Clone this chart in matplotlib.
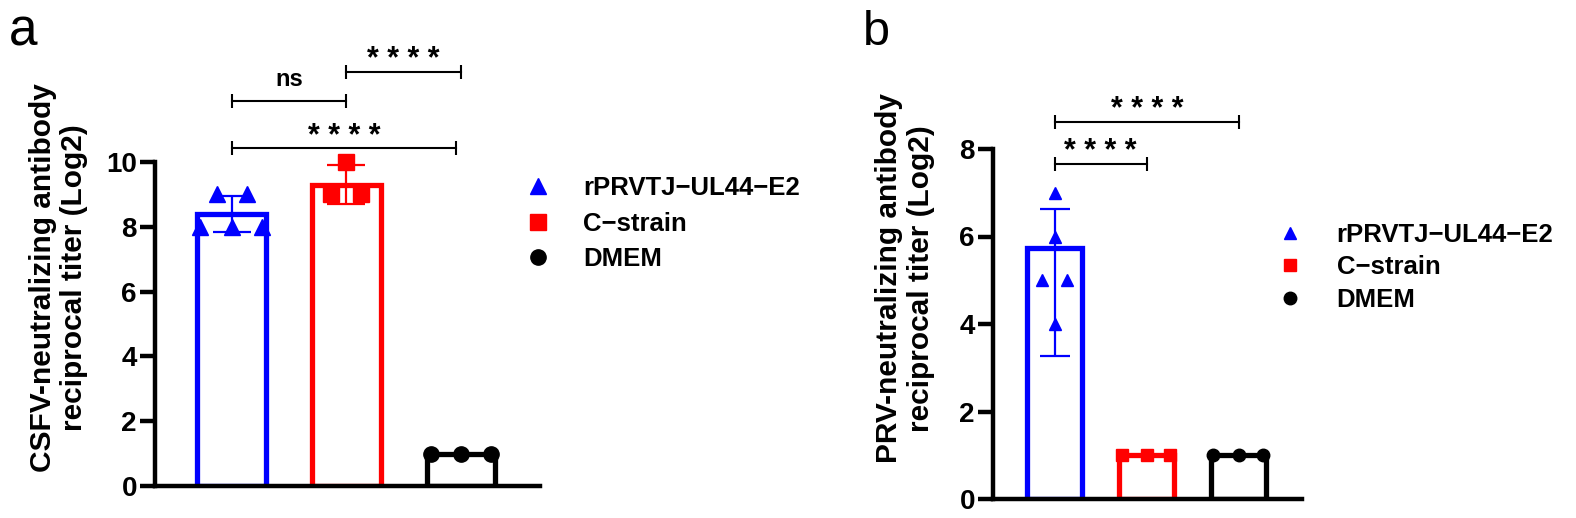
import matplotlib
matplotlib.use("Agg")
from matplotlib import pyplot as plt

plt.rcParams['font.family'] = ['Liberation Sans', 'DejaVu Sans']

# Datos
groups = ["rPRVTJ\u2212UL44\u2212E2", "C\u2212strain", "DMEM"]
colors = ["#0000FF", "#FF0000", "#000000"]
markers = ["^", "s", "o"]

# Panel a: CSFV
mean_a = [8.4, 9.3, 1.0]
err_lo_a = [0.55, 0.6, 0.0]
err_hi_a = [0.55, 0.6, 0.0]
points_a = [[9, 9, 8, 8, 8], [10, 9, 9], [1, 1, 1]]

# Panel b: PRV
mean_b = [5.73, 1.0, 1.0]
err_lo_b = [2.47, 0.0, 0.0]
err_hi_b = [0.9, 0.0, 0.0]
points_b = [[7, 6, 5, 5, 4], [1, 1, 1], [1, 1, 1]]

# Comparaciones (grupo1, grupo2, altura, texto)
sig_a = [(0, 1, 11.88, "ns"), (1, 2, 12.78, "* * * *"), (0, 1.96, 10.43, "* * * *")]
sig_b = [(0, 2.01, 8.62, "* * * *"), (0, 1, 7.66, "* * * *")]

# desplazamiento horizontal de los puntos dentro de cada barra
jitter_a = [[-0.13, 0.13, -0.28, 0.0, 0.26], [0.0, -0.13, 0.13], [-0.26, 0.0, 0.26]]
jitter_b = [[0.0, 0.0, -0.136, 0.136, 0.0], [-0.27, 0.0, 0.26], [-0.28, 0.0, 0.27]]

W, H = 1576, 518
fig = plt.figure(figsize=(W / 100, H / 100), dpi=100)


def dibuja_panel(ax, means, lo, hi, points, jitter, sig, ms, capsize, ymax, yticks,
                 ylabel, label_xy, legend_xy, labelspacing, textpad):
    xs = range(len(means))
    ax.bar(xs, means, width=0.6, facecolor="white", edgecolor=colors,
           linewidth=3.8, zorder=2)
    handles = []
    for i in xs:
        if hi[i] > 0:
            eb = ax.errorbar(i, means[i], yerr=[[lo[i]], [hi[i]]], fmt="none",
                             ecolor=colors[i], elinewidth=1.6, capsize=capsize,
                             capthick=1.6, zorder=3)
            for art in eb.get_children():
                art.set_clip_on(False)
        px = [i + j for j in jitter[i]]
        h, = ax.plot(px, points[i], linestyle="none", marker=markers[i],
                     color=colors[i], ms=ms[i], clip_on=False, zorder=4,
                     label=groups[i])
        handles.append(h)

    # corchetes de significancia
    for x1, x2, y, txt in sig:
        ax.plot([x1, x2], [y, y], color="black", lw=1.5, marker="|", ms=10,
                mew=1.5, clip_on=False)
        off = 10.8 if txt == "ns" else 2.5
        ax.annotate(txt, ((x1 + x2) / 2, y), xytext=(0, off),
                    textcoords="offset points", ha="center", va="baseline",
                    fontsize=17 if txt == "ns" else 22, fontweight="bold",
                    annotation_clip=False)

    ax.set_xlim(-0.67, 2.69)
    ax.set_ylim(0, ymax)
    ax.set_yticks(yticks)
    ax.spines[["top", "right"]].set_visible(False)
    for s in ["left", "bottom"]:
        ax.spines[s].set_linewidth(3.2)
    ax.tick_params(axis="x", bottom=False, labelbottom=False)
    ax.tick_params(axis="y", length=11, width=3.2, pad=2, labelsize=20)
    for t in ax.get_yticklabels():
        t.set_fontweight("bold")

    ax.text(label_xy[0], label_xy[1], ylabel, transform=ax.transAxes,
            rotation=90, ha="center", va="center", fontsize=21.5,
            fontweight="bold", linespacing=1.15)

    ax.legend(handles=handles, loc="upper left", bbox_to_anchor=legend_xy,
              bbox_transform=fig.transFigure, frameon=False, borderpad=0,
              borderaxespad=0, handlelength=1.0, handletextpad=textpad,
              labelspacing=labelspacing, prop={"size": 18.5, "weight": "bold"})


ax_a = fig.add_axes([155 / W, 32 / H, 385 / W, 324 / H])
dibuja_panel(ax_a, mean_a, err_lo_a, err_hi_a, points_a, jitter_a, sig_a,
             ms=[12, 12, 11], capsize=13.5, ymax=10, yticks=[0, 2, 4, 6, 8, 10],
             ylabel="CSFV-neutralizing antibody\nreciprocal titer (Log2)",
             label_xy=(-0.25, 0.642),
             legend_xy=(525 / W, 1 - 176 / H), labelspacing=0.45, textpad=1.25)

ax_b = fig.add_axes([993 / W, 19 / H, 309 / W, 350 / H])
dibuja_panel(ax_b, mean_b, err_lo_b, err_hi_b, points_b, jitter_b, sig_b,
             ms=[9, 9, 9], capsize=11, ymax=8, yticks=[0, 2, 4, 6, 8],
             ylabel="PRV-neutralizing antibody\nreciprocal titer (Log2)",
             label_xy=(-0.285, 0.631),
             legend_xy=(1277 / W, 1 - 223 / H), labelspacing=0.33, textpad=1.32)

fig.text(9 / W, 1 - 45 / H, "a", fontsize=37, va="baseline")
fig.text(863 / W, 1 - 45 / H, "b", fontsize=35, va="baseline")

fig.savefig("out.png", dpi=100)
